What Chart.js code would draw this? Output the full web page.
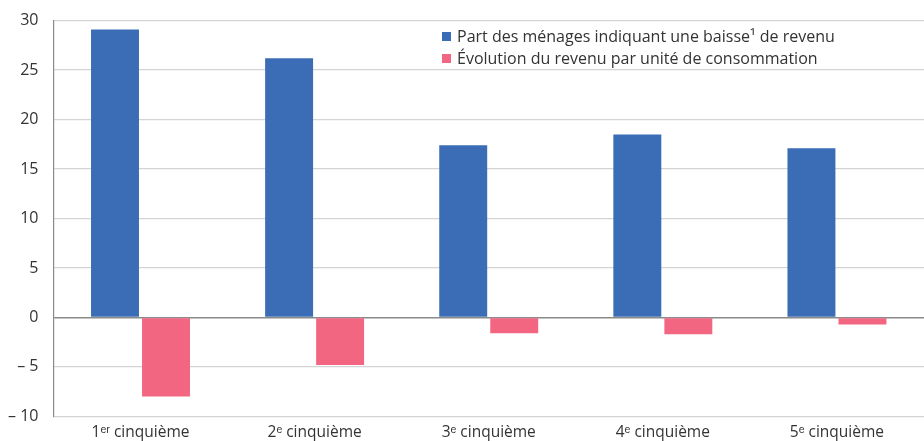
<!DOCTYPE html>
<html lang="fr">
<head>
<meta charset="utf-8">
<script src="https://cdn.jsdelivr.net/npm/chart.js@4"></script>
<style>
  html, body { margin: 0; padding: 0; background: #fff; overflow: hidden; }
  #wrap { position: relative; width: 924px; height: 441px; overflow: hidden; }
  #chart { position: absolute; left: 0; top: -4px; }
  #legend { position: absolute; left: 442px; top: 25px; font-family: "Open Sans", sans-serif; font-size: 16px; color: #333; line-height: 22px; }
  #legend .sw { display: inline-block; width: 9px; height: 9px; margin-right: 6px; vertical-align: 1px; }
</style>
</head>
<body>
<div id="wrap">
  <canvas id="chart" width="924" height="445"></canvas>
  <div id="legend"></div>
</div>
<script>
const categories = ["1ᵉʳ cinquième", "2ᵉ cinquième", "3ᵉ cinquième", "4ᵉ cinquième", "5ᵉ cinquième"];
const baisseLabel = "Part des ménages indiquant une baisse¹ de revenu";
const evolLabel = "Évolution du revenu par unité de consommation";
const baisseValues = [29.1, 26.2, 17.4, 18.5, 17.1];
const evolValues = [-8.0, -4.8, -1.6, -1.7, -0.7];
const yTicks = [-10, -5, 0, 5, 10, 15, 20, 25, 30];

const blue = "#3A6DB5";
const pink = "#F26682";

Chart.defaults.font.family = "'Open Sans', sans-serif";
Chart.defaults.color = "#333";

const chart = new Chart(document.getElementById("chart"), {
  type: "bar",
  data: {
    labels: categories,
    datasets: [
      { label: baisseLabel, data: baisseValues, backgroundColor: blue },
      { label: evolLabel, data: evolValues, backgroundColor: pink }
    ]
  },
  options: {
    responsive: false,
    animation: false,
    layout: { padding: { top: 6, right: 0, left: -7, bottom: -1 } },
    datasets: { bar: { categoryPercentage: 0.586, barPercentage: 0.94 } },
    plugins: {
      legend: { display: false },
      tooltip: { enabled: false }
    },
    scales: {
      x: {
        grid: { display: false },
        border: { display: false },
        ticks: { font: { size: 15.5 }, padding: -1 }
      },
      y: {
        min: -10,
        max: 30,
        afterBuildTicks: axis => { axis.ticks = yTicks.map(v => ({ value: v })); },
        grid: {
          color: ctx => ctx.tick && ctx.tick.value === 0 ? "#8a8a8a" : "#d4d4d4",
          lineWidth: ctx => ctx.tick && ctx.tick.value === 0 ? 1.5 : 1.2,
          drawTicks: false
        },
        border: { display: true, color: "#8a8a8a", width: 1.2 },
        ticks: {
          font: { size: 16 },
          padding: 15,
          callback: v => v < 0 ? "– " + Math.abs(v) : String(v)
        }
      }
    }
  }
});

// legend as html
const legend = document.getElementById("legend");
chart.data.datasets.forEach(ds => {
  const row = document.createElement("div");
  const sw = document.createElement("span");
  sw.className = "sw";
  sw.style.background = ds.backgroundColor;
  row.appendChild(sw);
  row.appendChild(document.createTextNode(ds.label));
  legend.appendChild(row);
});
</script>
</body>
</html>
